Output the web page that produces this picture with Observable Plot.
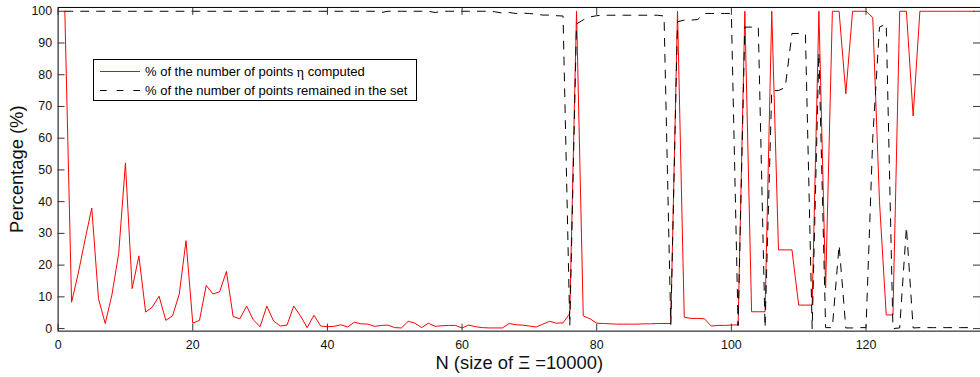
<!DOCTYPE html>
<html>
<head>
<meta charset="utf-8">
<script src="https://cdn.jsdelivr.net/npm/d3@7"></script>
<script src="https://cdn.jsdelivr.net/npm/@observablehq/plot@0.6"></script>
<style>
html, body { margin: 0; padding: 0; overflow: hidden; background: #fff; }
#wrap { position: relative; width: 980px; height: 377px; overflow: hidden; background: #fff; }
#wrap > svg { position: absolute; left: 0; top: 0; }
#legend { position: absolute; left: 93px; top: 59px; width: 322px; height: 40px; border: 1px solid #000; background: #fff;
  font-family: "Liberation Sans", Arial, Helvetica, sans-serif; font-size: 13px; color: #000; }
#legend svg { position: absolute; left: 0; top: 0; overflow: visible; }
</style>
</head>
<body>
<div id="wrap"></div>
<script>
// x values: N = 1 .. 136
const N = d3.range(1, 137);

// % of the number of points eta computed (red, solid)
const pctComputed = [
  100, 8.3, 17.5, 28, 38, 9.4, 1.6, 10.7, 23.7, 52.2,
  12.6, 22.9, 5.2, 6.8, 10.2, 2.6, 4, 10.9, 27.7, 1.7,
  2.6, 13.6, 10.9, 11.6, 18, 3.8, 3.1, 7.1, 2.7, 0.6,
  7.1, 2.4, 0.8, 1.1, 7.1, 4, 0.3, 4.2, 0.8, 0.6,
  0.7, 1.2, 0.5, 2.0, 1.5, 1.4, 0.7, 1.0, 1.1, 0.3,
  0.2, 2.3, 1.7, 0.3, 1.7, 0.7, 0.9, 1.0, 1.0, 0.2,
  1.1, 0.6, 0.3, 0.2, 0.2, 0.2, 1.6, 1.2, 1.1, 0.8,
  0.5, 1.4, 2.3, 1.7, 1.8, 4.8, 100, 4, 3.1, 1.7,
  1.6, 1.5, 1.4, 1.4, 1.4, 1.4, 1.5, 1.5, 1.6, 1.6,
  1.6, 100, 3.6, 3.2, 3.2, 3.1, 0.8, 1.0, 1.0, 1.1,
  1.2, 100, 5.3, 5.3, 5.3, 100, 24.8, 24.8, 24.8, 7.4,
  7.4, 7.4, 100, 12.8, 100, 100, 74, 100, 100, 100,
  98, 40, 4.3, 4.3, 100, 100, 67, 100, 100, 100,
  100, 100, 100, 100, 100, 100
];

// % of the number of points remained in the set (black, dashed)
const pctRemained = [
  100, 100, 100, 100, 100, 100, 100, 100, 100, 100,
  100, 100, 100, 100, 100, 100, 100, 100, 100, 100,
  100, 100, 100, 100, 100, 100, 100, 100, 100, 100,
  100, 100, 100, 100, 100, 100, 100, 100, 100, 100,
  100, 100, 100, 100, 100, 100, 100, 99.6, 100, 100,
  100, 100, 100, 100, 100, 99.6, 100, 100, 100, 100,
  100, 100, 100, 100, 99.8, 99.4, 99.6, 99.3, 99.4, 99.3,
  99.1, 98.8, 98.8, 98.6, 98.5, 0.8, 96, 97.3, 98.2, 98.6,
  98.75, 98.75, 98.75, 98.75, 98.75, 98.75, 98.75, 98.75, 98.75, 98.5,
  1.3, 96.7, 97.2, 97.2, 97.4, 99.3, 99.3, 99.3, 99.3, 99.3,
  0.9, 95, 95, 95, 0.3, 75, 75, 76, 93, 93,
  92.8, 0, 87, 0.3, 0.3, 26.3, 0.2, 0.2, 0.3, 0.3,
  60, 95, 96, 0, 0.2, 32, 0.2, 0.3, 0.3, 0.3,
  0.3, 0.3, 0.3, 0.3, 0.3, 0.3
];

const xTicks = [0, 20, 40, 60, 80, 100, 120];
const yTicks = [0, 10, 20, 30, 40, 50, 60, 70, 80, 90, 100];
const xLabel = "N (size of \u039E =10000)";
const yLabel = "Percentage (%)";
const seriesNamesBefore = ["% of the number of points ", "% of the number of points remained in the set"];
const etaSymbol = "\u03B7";
const seriesNamesAfter = [" computed", ""];

const rows = N.map((n, i) => ({n, computed: pctComputed[i], remained: pctRemained[i]}));

const chart = Plot.plot({
  width: 987,
  height: 377,
  marginLeft: 58,
  marginRight: 0,
  marginTop: 7,
  marginBottom: 44,
  style: {fontFamily: "'Liberation Sans', Arial, Helvetica, sans-serif", fontSize: "12.5px", color: "#000", background: "#fff", overflow: "visible"},
  x: {domain: [0, 137]},
  y: {domain: [-0.8, 101.2]},
  marks: [
    Plot.line(rows, {x: "n", y: "computed", stroke: "#ff0000", strokeWidth: 1}),
    Plot.line(rows, {x: "n", y: "remained", stroke: "#000", strokeWidth: 1, strokeDasharray: "8,8"}),
    Plot.frame({stroke: "#000", strokeWidth: 1}),
    Plot.axisY(yTicks, {anchor: "left", tickSize: 0, tickPadding: 6, label: null, fill: "#111"}),
    Plot.axisY(yTicks, {anchor: "left", tickSize: 7, insetLeft: 7, fill: "none", label: null, stroke: "#333"}),
    Plot.axisY(yTicks, {anchor: "right", tickSize: 8, insetRight: 8, fill: "none", label: null, stroke: "#333"}),
    Plot.axisX(xTicks, {anchor: "bottom", tickSize: 0, tickPadding: 9, label: null, fill: "#111"}),
    Plot.axisX(xTicks, {anchor: "bottom", tickSize: 7, insetBottom: 7, fill: "none", label: null, stroke: "#333"}),
    Plot.axisX(xTicks, {anchor: "top", tickSize: 7, insetTop: 7, fill: "none", label: null, stroke: "#333"}),
    Plot.text([xLabel], {text: d => d, frameAnchor: "bottom", lineAnchor: "middle", textAnchor: "middle", dy: 32, fontSize: 18.5, fill: "#111"}),
    Plot.text([yLabel], {text: d => d, frameAnchor: "left", rotate: -90, lineAnchor: "middle", textAnchor: "middle", dx: -41, fontSize: 18.5, fill: "#111"})
  ]
});

const wrap = document.getElementById("wrap");
wrap.appendChild(chart);

// legend box inside the plot area
const legend = document.createElement("div");
legend.id = "legend";
legend.innerHTML = `
<svg width="322" height="40">
  <line x1="6" x2="46" y1="11.5" y2="11.5" stroke="#ff0000" stroke-width="1"></line>
  <line x1="6" x2="46" y1="30.5" y2="30.5" stroke="#000" stroke-width="1" stroke-dasharray="6.7,10"></line>
  <text x="51" y="11.5" dominant-baseline="central" fill="#000">${seriesNamesBefore[0]}<tspan font-family="'Liberation Serif', 'DejaVu Serif', serif" font-size="14">${etaSymbol}</tspan>${seriesNamesAfter[0]}</text>
  <text x="51" y="30.5" dominant-baseline="central" fill="#000">${seriesNamesBefore[1]}</text>
</svg>`;
wrap.appendChild(legend);
</script>
</body>
</html>
